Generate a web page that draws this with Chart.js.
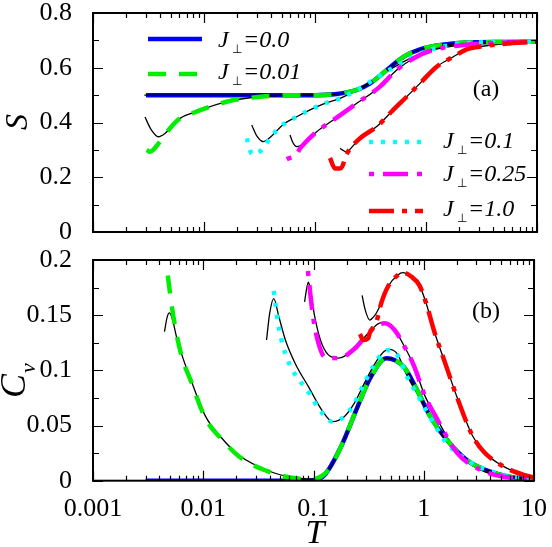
<!DOCTYPE html>
<html>
<head>
<meta charset="utf-8">
<script src="https://cdn.jsdelivr.net/npm/chart.js@4/dist/chart.umd.min.js"></script>
<style>
  body { margin: 0; background: #fff; width: 552px; height: 547px; position: relative; overflow: hidden; }
  canvas { position: absolute; left: 0; }
  #ca { top: -13px; }
  #cb { top: 234px; }
</style>
</head>
<body>
<canvas id="ca" width="552" height="271"></canvas>
<canvas id="cb" width="552" height="313"></canvas>
<script>
// ---- tick values / labels ----
const xTicks = [0.001, 0.01, 0.1, 1, 10];
const xTickLabels = ['0.001', '0.01', '0.1', '1', '10'];
const yLabelsA = ['0', '0.2', '0.4', '0.6', '0.8'];
const yLabelsB = ['0', '0.05', '0.1', '0.15', '0.2'];
const yMinorA = [0.1, 0.3, 0.5, 0.7];
const yMinorB = [0.025, 0.075, 0.125, 0.175];
const legendValues = ['0.0', '0.01', '0.1', '0.25', '1.0'];

// ---- panel (a): entropy S(T) ----
const tS00 = [0.003, 0.01, 0.03, 0.1, 0.15, 0.2, 0.238, 0.314, 0.443, 0.626, 0.883, 1.35, 2.33, 5, 10];
const S00  = [0.5, 0.5, 0.5, 0.5, 0.503, 0.511, 0.519, 0.543, 0.592, 0.640, 0.667, 0.683, 0.692, 0.694, 0.695];
const tS001 = [0.00305, 0.00326, 0.00401, 0.00494, 0.00608, 0.00859, 0.016, 0.032, 0.0684, 0.1, 0.15, 0.2, 0.238, 0.314, 0.443, 0.626, 0.883, 1.35, 2.33, 5, 10];
const S001  = [0.30, 0.293, 0.33, 0.379, 0.415, 0.44, 0.476, 0.494, 0.5, 0.5, 0.503, 0.511, 0.519, 0.543, 0.592, 0.640, 0.667, 0.683, 0.692, 0.694, 0.695];
const tS01 = [0.0243, 0.0265, 0.028, 0.0331, 0.0407, 0.0518, 0.0684, 0.0902, 0.123, 0.168, 0.238, 0.442, 0.670, 1.087, 2.33, 5, 10];
const S01  = [0.342, 0.29, 0.283, 0.30, 0.351, 0.393, 0.421, 0.446, 0.47, 0.488, 0.519, 0.586, 0.628, 0.665, 0.69, 0.694, 0.695];
const tS025 = [0.0556, 0.0684, 0.0733, 0.0813, 0.1035, 0.146, 0.238, 0.385, 0.545, 0.769, 1.164, 2.17, 5, 10];
const S025  = [0.266, 0.285, 0.305, 0.326, 0.366, 0.409, 0.47, 0.531, 0.592, 0.634, 0.665, 0.683, 0.692, 0.695];
const tS10 = [0.1365, 0.1514, 0.1715, 0.193, 0.254, 0.360, 0.507, 0.670, 0.883, 1.248, 1.762, 2.327, 3.02, 5.63, 10];
const S10  = [0.27, 0.232, 0.233, 0.285, 0.342, 0.385, 0.446, 0.494, 0.543, 0.604, 0.64, 0.667, 0.677, 0.689, 0.695];
// thin black curves in (a)
const tSb00 = [0.0029, 0.03, 0.1, 0.15, 0.2, 0.238, 0.314, 0.443, 0.626, 0.883, 1.35, 2.33, 5, 10];
const Sb00  = [0.5, 0.5, 0.5, 0.503, 0.511, 0.519, 0.543, 0.592, 0.640, 0.667, 0.683, 0.692, 0.694, 0.695];
const tSb001 = [0.00294, 0.00333, 0.00388, 0.00445, 0.00494, 0.00608, 0.00859, 0.016, 0.032, 0.0684, 0.1];
const Sb001  = [0.42, 0.375, 0.348, 0.36, 0.379, 0.415, 0.44, 0.476, 0.494, 0.5, 0.5];
const tSb01 = [0.0269, 0.030, 0.0342, 0.0407, 0.0518, 0.0684, 0.0902, 0.123, 0.168, 0.238, 0.442, 0.670, 1.087, 2.33, 10];
const Sb01  = [0.391, 0.35, 0.33, 0.351, 0.393, 0.421, 0.446, 0.47, 0.488, 0.519, 0.586, 0.628, 0.665, 0.69, 0.695];
const tSb025 = [0.0596, 0.0635, 0.0684, 0.0733, 0.0813, 0.1035, 0.146, 0.238, 0.385, 0.545, 0.769, 1.164, 2.17, 10];
const Sb025  = [0.354, 0.325, 0.312, 0.315, 0.326, 0.366, 0.409, 0.47, 0.531, 0.592, 0.634, 0.665, 0.683, 0.695];
const tSb10 = [0.168, 0.183, 0.193, 0.215, 0.254, 0.360, 0.507, 0.670, 0.883, 1.248, 1.762, 2.327, 3.02, 5.63, 10];
const Sb10  = [0.306, 0.296, 0.293, 0.31, 0.342, 0.385, 0.446, 0.494, 0.543, 0.604, 0.64, 0.667, 0.677, 0.689, 0.695];

// ---- panel (b): specific heat Cv(T) ----
const tC00 = [0.003, 0.03, 0.07, 0.1, 0.1256, 0.178, 0.251, 0.331, 0.457, 0.660, 0.871, 1.149, 1.622, 2.456, 3.99, 6.47, 10];
const C00  = [0, 0, 0, 0.0005, 0.005, 0.031, 0.067, 0.094, 0.111, 0.103, 0.082, 0.058, 0.037, 0.0188, 0.0082, 0.003, 0.0015];
const tC001 = [0.00477, 0.00515, 0.00567, 0.0064, 0.00775, 0.0104, 0.0149, 0.0211, 0.0393, 0.0684, 0.0966, 0.1365, 0.178, 0.251, 0.331, 0.457, 0.660, 0.871, 1.149, 1.622, 2.456, 3.99, 6.47, 10];
const C001  = [0.186, 0.16, 0.135, 0.112, 0.09, 0.057, 0.037, 0.022, 0.0082, 0.0022, 0.0013, 0.0097, 0.031, 0.067, 0.094, 0.111, 0.103, 0.082, 0.058, 0.037, 0.0188, 0.0082, 0.003, 0.0015];
const tC01 = [0.0436, 0.0455, 0.0477, 0.0508, 0.0556, 0.0638, 0.0759, 0.0934, 0.111, 0.149, 0.190, 0.234, 0.288, 0.355, 0.436, 0.484, 0.575, 0.708, 0.934, 1.231, 1.622, 2.456, 3.72, 6.47, 10];
const C01  = [0.172, 0.158, 0.143, 0.129, 0.115, 0.101, 0.09, 0.078, 0.0656, 0.0535, 0.058, 0.070, 0.088, 0.105, 0.117, 0.1184, 0.114, 0.094, 0.073, 0.052, 0.034, 0.0188, 0.0097, 0.0036, 0.0015];
const tC025 = [0.089, 0.0934, 0.1, 0.111, 0.127, 0.168, 0.238, 0.313, 0.385, 0.442, 0.544, 0.670, 0.824, 1.014, 1.337, 2.024, 3.28, 5.33, 8.65, 10];
const C025  = [0.19, 0.170, 0.146, 0.1245, 0.112, 0.111, 0.120, 0.1336, 0.141, 0.1426, 0.1366, 0.1214, 0.103, 0.078, 0.055, 0.0248, 0.0097, 0.0036, 0.0022, 0.0015];
const tC10 = [0.264, 0.282, 0.313, 0.324, 0.372, 0.412, 0.474, 0.583, 0.647, 0.769, 0.914, 1.05, 1.248, 1.535, 2.024, 2.76, 3.52, 5.33, 8.07, 10];
const C10  = [0.133, 0.1275, 0.129, 0.134, 0.144, 0.161, 0.176, 0.1864, 0.1885, 0.185, 0.177, 0.161, 0.135, 0.109, 0.0745, 0.041, 0.026, 0.0127, 0.0052, 0.003];
// thin black curves in (b)
const tCb001 = [0.00445, 0.0047, 0.00494, 0.0053, 0.00567, 0.0064, 0.00775, 0.0104, 0.0149, 0.0211, 0.0393, 0.0684, 0.0966, 0.1365, 0.178, 0.251, 0.331, 0.457, 0.660, 0.871, 1.149, 1.622, 2.456, 3.99, 6.47, 10];
const Cb001  = [0.135, 0.148, 0.152, 0.145, 0.132, 0.114, 0.091, 0.059, 0.038, 0.023, 0.0088, 0.0025, 0.0015, 0.0097, 0.031, 0.067, 0.094, 0.111, 0.103, 0.082, 0.058, 0.037, 0.0188, 0.0082, 0.003, 0.0015];
const tCb01 = [0.0375, 0.0401, 0.0436, 0.0484, 0.0556, 0.0684, 0.0902, 0.119, 0.149, 0.190, 0.234, 0.288, 0.355, 0.436, 0.484, 0.575, 0.708, 0.934, 1.231, 1.622, 2.456, 3.72, 6.47, 10];
const Cb01  = [0.1275, 0.152, 0.165, 0.149, 0.1275, 0.106, 0.085, 0.064, 0.0535, 0.058, 0.070, 0.088, 0.105, 0.117, 0.119, 0.115, 0.095, 0.074, 0.053, 0.035, 0.019, 0.0098, 0.0037, 0.0015];
const tCb025 = [0.083, 0.087, 0.090, 0.094, 0.102, 0.116, 0.1365, 0.168, 0.238, 0.313, 0.412, 0.544, 0.670, 0.824, 1.014, 1.337, 2.024, 3.28, 5.33, 10];
const Cb025  = [0.162, 0.175, 0.180, 0.172, 0.150, 0.127, 0.114, 0.111, 0.120, 0.1336, 0.1432, 0.1366, 0.1214, 0.103, 0.078, 0.055, 0.0248, 0.0097, 0.0036, 0.0015];
const tCb10 = [0.276, 0.294, 0.324, 0.347, 0.372, 0.412, 0.474, 0.583, 0.647, 0.769, 0.914, 1.05, 1.248, 1.535, 2.024, 2.76, 3.52, 5.33, 8.07, 10];
const Cb10  = [0.168, 0.155, 0.1456, 0.148, 0.152, 0.161, 0.176, 0.1864, 0.1885, 0.185, 0.177, 0.161, 0.135, 0.109, 0.0745, 0.041, 0.026, 0.0127, 0.0052, 0.003];

// ---- styles ----
const styles = [
  { color: '#0000ff', dash: [] },                // J=0.0
  { color: '#00ee00', dash: [18, 13] },          // J=0.01
  { color: '#00ffff', dash: [4, 8] },            // J=0.1
  { color: '#ff00ff', dash: [5, 9, 25, 9] },     // J=0.25
  { color: '#ff0000', dash: [25, 8, 5, 8] }      // J=1.0
];
const LW = 4.5;
const SERIF = '"Liberation Serif", "Times New Roman", serif';
const TOP_A = -13, TOP_B = 234;   // canvas offsets on the page

const pts = (t, v) => t.map((x, i) => ({ x, y: v[i] }));

function colored(t, v, k, order) {
  return {
    data: pts(t, v), borderColor: styles[k].color, borderWidth: LW,
    borderDash: styles[k].dash, pointRadius: 0, fill: false,
    cubicInterpolationMode: 'monotone', order
  };
}
function black(t, v) {
  return {
    data: pts(t, v), borderColor: '#000', borderWidth: 1.3,
    pointRadius: 0, fill: false, cubicInterpolationMode: 'monotone', order: 8
  };
}

// frame with inward ticks on all four sides
function framePlugin(yMinor) {
  return {
    id: 'frame',
    afterDatasetsDraw(chart) {
      const { ctx, chartArea: a, scales: { x, y } } = chart;
      ctx.save();
      ctx.strokeStyle = '#000';
      ctx.lineWidth = 1.2;
      ctx.beginPath();
      const xt = (v, len) => {
        const p = Math.round(x.getPixelForValue(v)) + 0.5;
        ctx.moveTo(p, a.bottom); ctx.lineTo(p, a.bottom - len);
        ctx.moveTo(p, a.top); ctx.lineTo(p, a.top + len);
      };
      const yt = (v, len) => {
        const p = Math.round(y.getPixelForValue(v)) + 0.5;
        ctx.moveTo(a.left, p); ctx.lineTo(a.left + len, p);
        ctx.moveTo(a.right, p); ctx.lineTo(a.right - len, p);
      };
      xTicks.forEach((d, i) => {
        xt(d, 10);
        if (i < xTicks.length - 1) for (let m = 2; m <= 9; m++) xt(m * d, 5);
      });
      y.ticks.forEach(t => yt(t.value, 10));
      yMinor.forEach(v => yt(v, 6));
      ctx.stroke();
      ctx.lineWidth = 2;
      ctx.strokeRect(a.left, a.top, a.right - a.left, a.bottom - a.top);
      ctx.restore();
    }
  };
}

function drawJ(ctx, x, base, val) {
  ctx.fillStyle = '#000';
  ctx.textAlign = 'left';
  ctx.textBaseline = 'alphabetic';
  ctx.font = 'italic 24px ' + SERIF;
  ctx.fillText('J', x, base);
  ctx.font = '12px "DejaVu Sans"';
  ctx.fillText('\u22A5', x + 14, base + 6);
  ctx.font = 'italic 24px ' + SERIF;
  ctx.fillText('=' + val, x + 25, base);
}

function legendLine(ctx, k, x1, x2, y) {
  ctx.save();
  ctx.strokeStyle = styles[k].color;
  ctx.lineWidth = LW;
  ctx.setLineDash(styles[k].dash);
  ctx.beginPath();
  ctx.moveTo(x1, y); ctx.lineTo(x2, y);
  ctx.stroke();
  ctx.restore();
}

// texts given in page coordinates
const textA = {
  id: 'textA',
  afterDraw(chart) {
    const ctx = chart.ctx;
    ctx.save();
    ctx.translate(0, -TOP_A);
    legendLine(ctx, 0, 148, 202, 39);  drawJ(ctx, 218, 47, legendValues[0]);
    legendLine(ctx, 1, 148, 202, 74);  drawJ(ctx, 218, 79, legendValues[1]);
    legendLine(ctx, 2, 369, 423, 142); drawJ(ctx, 443, 148, legendValues[2]);
    legendLine(ctx, 3, 369, 423, 174); drawJ(ctx, 443, 181, legendValues[3]);
    legendLine(ctx, 4, 369, 423, 211); drawJ(ctx, 443, 216, legendValues[4]);
    ctx.font = '24px ' + SERIF;
    ctx.textAlign = 'center';
    ctx.fillText('(a)', 486, 96);
    ctx.translate(19, 122);
    ctx.rotate(-Math.PI / 2);
    ctx.font = 'italic 32px ' + SERIF;
    ctx.textBaseline = 'middle';
    ctx.fillText('S', 0, 0);
    ctx.restore();
  }
};

const textB = {
  id: 'textB',
  afterDraw(chart) {
    const ctx = chart.ctx;
    ctx.save();
    ctx.translate(0, -TOP_B);
    ctx.fillStyle = '#000';
    ctx.font = '24px ' + SERIF;
    ctx.textAlign = 'center';
    ctx.textBaseline = 'alphabetic';
    ctx.fillText('(b)', 486, 318);
    ctx.font = 'italic 34px ' + SERIF;
    ctx.fillText('T', 315, 543);
    ctx.translate(25, 398);
    ctx.rotate(-Math.PI / 2);
    ctx.textAlign = 'left';
    ctx.font = 'italic 36px ' + SERIF;
    ctx.fillText('C', 0, 0);
    const w = ctx.measureText('C').width;
    ctx.font = 'italic 22px ' + SERIF;
    ctx.fillText('v', w + 1, 10);
    ctx.restore();
  }
};

function baseOptions(yMax, yStep, yLabels, xHeight, showX) {
  return {
    responsive: false,
    animation: false,
    events: [],
    layout: { padding: { top: 0, right: 15, left: 0, bottom: 0 } },
    plugins: { legend: { display: false }, tooltip: { enabled: false } },
    scales: {
      x: {
        type: 'logarithmic', min: 0.001, max: 10,
        grid: { display: false }, border: { display: false },
        afterBuildTicks: s => { s.ticks = xTicks.map(v => ({ value: v })); },
        afterFit: s => { s.height = xHeight; },
        ticks: {
          display: showX, autoSkip: false, maxRotation: 0, padding: 5,
          color: '#000', font: { family: SERIF, size: 26 },
          callback: (v, i) => xTickLabels[i]
        }
      },
      y: {
        type: 'linear', min: 0, max: yMax,
        grid: { display: false }, border: { display: false },
        afterFit: s => { s.width = 93; },
        ticks: {
          stepSize: yStep, padding: 13, color: '#000',
          font: { family: SERIF, size: 26, lineHeight: 1 },
          callback: (v, i) => yLabels[i]
        }
      }
    }
  };
}

new Chart(document.getElementById('ca'), {
  type: 'line',
  data: {
    datasets: [
      colored(tS10, S10, 4, 1),
      colored(tS025, S025, 3, 2),
      colored(tS01, S01, 2, 3),
      colored(tS001, S001, 1, 4),
      black(tSb00, Sb00),
      black(tSb001, Sb001),
      black(tSb01, Sb01),
      black(tSb025, Sb025),
      black(tSb10, Sb10),
      colored(tS00, S00, 0, 10)
    ]
  },
  options: baseOptions(0.8, 0.2, yLabelsA, 18, false),
  plugins: [framePlugin(yMinorA), textA]
});

new Chart(document.getElementById('cb'), {
  type: 'line',
  data: {
    datasets: [
      colored(tC10, C10, 4, 1),
      colored(tC025, C025, 3, 2),
      colored(tC01, C01, 2, 3),
      colored(tC001, C001, 1, 4),
      black(tCb001, Cb001),
      black(tCb01, Cb01),
      black(tCb025, Cb025),
      black(tCb10, Cb10),
      colored(tC00, C00, 0, 10)
    ]
  },
  options: baseOptions(0.2, 0.05, yLabelsB, 66.3, true),
  plugins: [framePlugin(yMinorB), textB]
});
</script>
</body>
</html>
